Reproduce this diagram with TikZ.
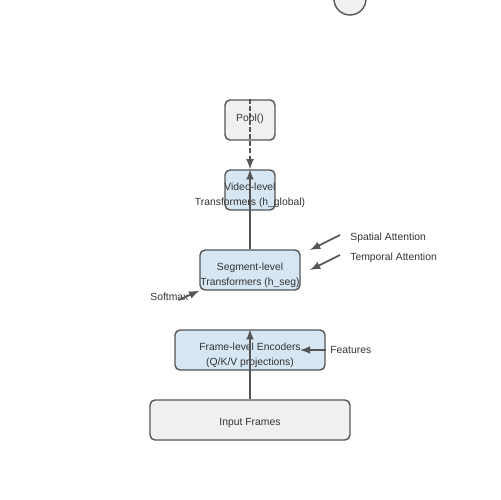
\documentclass[tikz,border=0pt]{standalone}
\usepackage{fontspec}
\setmainfont{Liberation Sans}
\usetikzlibrary{shapes,arrows}
\definecolor{boxblue}{HTML}{D6E6F2}
\definecolor{boxgray}{HTML}{F0F0F0}
\definecolor{edgegray}{HTML}{555555}
\definecolor{textgray}{HTML}{333333}
\tikzstyle{stagebox} = [draw=edgegray, line width=0.8pt, rounded corners=0.1cm, minimum height=0.8cm, inner sep=0pt]
\tikzstyle{bluebox} = [stagebox, fill=boxblue]
\tikzstyle{graybox} = [stagebox, fill=boxgray]
\tikzstyle{boxtext} = [text=textgray, align=center, inner sep=0pt, yshift=-0.11cm]
\tikzstyle{arrow} = [draw, -latex, line width=1pt, edgegray]
\tikzstyle{note} = [text=textgray, anchor=west, inner sep=0pt]

\begin{document}
\begin{tikzpicture}[x=0.02cm, y=-0.02cm, font=\fontsize{5.9}{8.5}\selectfont]
\useasboundingbox (0,0) rectangle (500,500);

\node[circle, draw=edgegray, fill=boxgray, line width=0.8pt, minimum size=0.64cm, inner sep=0pt] (loop) at (350,-1) {};

\node[graybox, minimum width=4cm, label={[boxtext, yshift=0.04cm]center:Input Frames}] (input) at (250,420) {};
\node[bluebox, minimum width=3cm, label={[boxtext]center:Frame-level Encoders\\(Q/K/V projections)}] (enc) at (250,350) {};
\node[bluebox, minimum width=2cm, label={[boxtext]center:Segment-level\\Transformers (h\_seg)}] (seg) at (250,270) {};
\node[bluebox, minimum width=1cm, label={[boxtext]center:Video-level\\Transformers (h\_global)}] (video) at (250,190) {};
\node[graybox, minimum width=1cm, label={[boxtext, yshift=0.14cm]center:Pool()}] (pool) at (250,120) {};

\node[note] (spatial) at (350,238) {Spatial Attention};
\node[note] (temporal) at (350,258) {Temporal Attention};
\node[note] (softmax) at (150,297) {Softmax};
\node[note] (features) at (330,350) {Features};
\coordinate (spatialtip) at (310,250);
\coordinate (temporaltip) at (310,270);
\coordinate (featuretip) at (300,350);

\path[arrow] (input.north) -- (enc.north);
\path[arrow] (seg.north) -- (video.north);
\path[arrow, dash pattern=on 2.5pt off 1.5pt] (pool.north) -- (video.north);
\path[arrow] ([xshift=-0.2cm,yshift=0.06cm]spatial.west) -- (spatialtip);
\path[arrow] ([xshift=-0.2cm,yshift=0.06cm]temporal.west) -- (temporaltip);
\path[arrow] ([xshift=-0.2cm,yshift=-0.06cm]softmax.east) -- (seg.south west);
\path[arrow] (enc.east) -- (featuretip);
\end{tikzpicture}
\end{document}
